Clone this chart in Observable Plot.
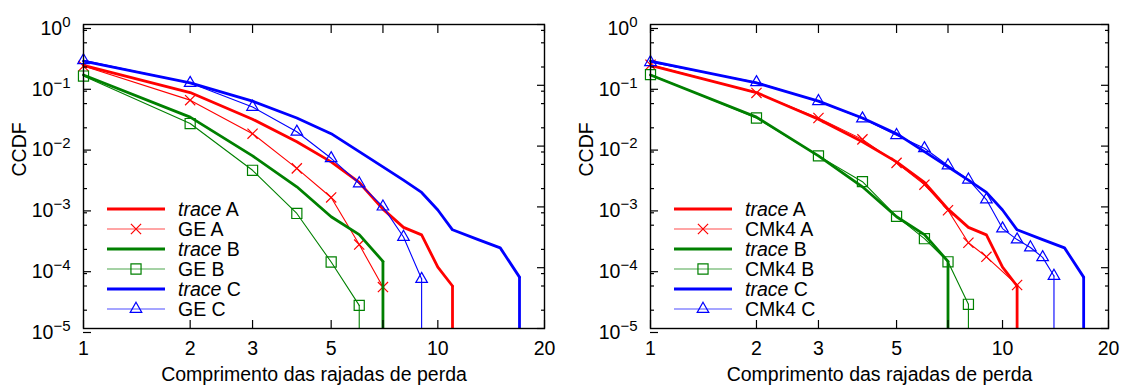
<!DOCTYPE html>
<html>
<head>
<meta charset="utf-8">
<script src="https://cdn.jsdelivr.net/npm/d3@7"></script>
<script src="https://cdn.jsdelivr.net/npm/@observablehq/plot@0.6"></script>
<style>
  html, body { margin: 0; padding: 0; background: #fff; }
  #wrap { display: flex; width: 1127px; height: 390px; }
</style>
</head>
<body>
<div id="wrap"></div>
<script>
// ---- Measured CCDF of loss-burst lengths ----
const traceA_len  = [1, 2, 3, 4, 5, 6, 7, 8, 9, 10, 11];
const traceA_ccdf = [0.213, 0.076, 0.0277, 0.0118, 0.0055, 0.00252, 0.00092, 0.00046, 0.000347, 0.000102, 5.0e-5];
const traceB_len  = [1, 2, 3, 4, 5, 6, 7];
const traceB_ccdf = [0.148, 0.030, 0.0069, 0.00214, 0.00069, 0.00035, 0.000127];
const traceC_len  = [1, 2, 3, 4, 5, 6, 7, 8, 9, 10, 11, 13, 15, 17];
const traceC_ccdf = [0.25, 0.11, 0.055, 0.029, 0.016, 0.0081, 0.00455, 0.00275, 0.00173, 0.00089, 0.00042, 0.00029, 0.000212, 7.0e-5];

// ---- Gilbert-Elliott model ----
const geA_len  = [1, 2, 3, 4, 5, 6, 7];
const geA_ccdf = [0.207, 0.057, 0.016, 0.0043, 0.00143, 0.00024, 4.8e-5];
const geB_len  = [1, 2, 3, 4, 5, 6];
const geB_ccdf = [0.142, 0.0235, 0.0040, 0.00078, 0.000124, 2.4e-5];
const geC_len  = [1, 2, 3, 4, 5, 6, 7, 8, 9];
const geC_ccdf = [0.257, 0.109, 0.044, 0.0172, 0.0063, 0.00243, 0.00101, 0.00032, 6.5e-5];

// ---- 4-state Markov chain model ----
const cmA_len  = [1, 2, 3, 4, 5, 6, 7, 8, 9, 11];
const cmA_ccdf = [0.218, 0.075, 0.029, 0.0129, 0.0053, 0.00232, 0.00088, 0.000257, 0.000151, 5.2e-5];
const cmB_len  = [1, 2, 3, 4, 5, 6, 7, 8];
const cmB_ccdf = [0.15, 0.029, 0.0069, 0.0026, 0.0007, 0.0003, 0.000125, 2.5e-5];
const cmC_len  = [1, 2, 3, 4, 5, 6, 7, 8, 9, 10, 11, 12, 13, 14];
const cmC_ccdf = [0.24, 0.112, 0.0547, 0.0284, 0.0151, 0.0092, 0.0048, 0.0028, 0.00132, 0.00044, 0.00029, 0.000215, 0.000148, 7.3e-5];

// ---- Axes ----
const xTicks = [1, 2, 3, 5, 7, 10, 20];
const yTicks = [1e-5, 1e-4, 1e-3, 1e-2, 1e-1, 1];
const yMinorMult = [2, 5, 8];
const xDomain = [1, 20];
const yDomain = [1e-5, 1];
const xTitle = "Comprimento das rajadas de perda";
const yTitle = "CCDF";

const FONT = '"Liberation Sans", Arial, Helvetica, sans-serif';
const FONT_SIZE = 19.5;
const RED = "#ff0000", GREEN = "#008000", BLUE = "#0000ff";
const THICK = 2.8, THIN = 1.1;

const yMinor = yTicks.slice(0, -1).flatMap(d => yMinorMult.map(m => d * m));

function series(label, italic, len, ccdf, color, symbol) {
  return {label, italic, color, symbol,
          rows: len.map((x, i) => ({x, y: ccdf[i]}))};
}

const leftSeries = [
  series(" A", "trace", traceA_len, traceA_ccdf, RED, null),
  series("GE A", null, geA_len, geA_ccdf, RED, "times"),
  series(" B", "trace", traceB_len, traceB_ccdf, GREEN, null),
  series("GE B", null, geB_len, geB_ccdf, GREEN, "square"),
  series(" C", "trace", traceC_len, traceC_ccdf, BLUE, null),
  series("GE C", null, geC_len, geC_ccdf, BLUE, "triangle")
];
const rightSeries = [
  series(" A", "trace", traceA_len, traceA_ccdf, RED, null),
  series("CMk4 A", null, cmA_len, cmA_ccdf, RED, "times"),
  series(" B", "trace", traceB_len, traceB_ccdf, GREEN, null),
  series("CMk4 B", null, cmB_len, cmB_ccdf, GREEN, "square"),
  series(" C", "trace", traceC_len, traceC_ccdf, BLUE, null),
  series("CMk4 C", null, cmC_len, cmC_ccdf, BLUE, "triangle")
];

// marker radii chosen so the symbols come out about 10px across
const SYMBOL_R = {times: 4.7, square: 5.7, triangle: 4.3};
const D3_SYMBOL = {times: d3.symbolTimes, square: d3.symbolSquare, triangle: d3.symbolTriangle};

function panel(seriesList, width, marginLeft, marginRight) {
  const marks = [];
  for (const s of seriesList) {
    const sw = s.symbol ? THIN : THICK;
    marks.push(Plot.line(s.rows, {x: "x", y: "y", stroke: s.color, strokeWidth: sw}));
    // the curve falls off the bottom of the log axis after its last point
    marks.push(Plot.ruleX(s.rows.slice(-1), {x: "x", y1: "y", y2: () => yDomain[0], stroke: s.color, strokeWidth: sw}));
    if (s.symbol) {
      marks.push(Plot.dot(s.rows, {x: "x", y: "y", symbol: s.symbol, r: SYMBOL_R[s.symbol],
                                   stroke: s.color, strokeWidth: 1.2, fill: "none"}));
    }
  }
  marks.push(
    Plot.frame({stroke: "#000", strokeWidth: 1.4}),
    Plot.axisX(xTicks, {anchor: "bottom", tickSize: -8, tickPadding: 21, tickFormat: d => String(d), label: null, strokeWidth: 1.2}),
    Plot.axisX(xTicks, {anchor: "top", tickSize: -8, tickFormat: () => "", label: null, strokeWidth: 1.2}),
    Plot.axisY(yTicks, {anchor: "left", tickSize: -8, tickPadding: 21, dy: 4,
                        tickFormat: d => `10^${Math.round(Math.log10(d))}`, label: null, strokeWidth: 1.2}),
    Plot.axisY(yTicks, {anchor: "right", tickSize: -8, tickFormat: () => "", label: null, strokeWidth: 1.2}),
    Plot.axisY(yMinor, {anchor: "left", tickSize: -4, tickFormat: () => "", label: null, strokeWidth: 1.2}),
    Plot.axisY(yMinor, {anchor: "right", tickSize: -4, tickFormat: () => "", label: null, strokeWidth: 1.2}),
    Plot.text([xTitle], {text: d => d, frameAnchor: "bottom", dy: 52}),
    Plot.text([yTitle], {text: d => d, frameAnchor: "left", dx: -64, rotate: -90})
  );

  const svg = Plot.plot({
    width, height: 390,
    marginLeft, marginRight, marginTop: 24, marginBottom: 62,
    x: {type: "log", domain: xDomain},
    y: {type: "log", domain: yDomain},
    style: {fontFamily: FONT, fontSize: `${FONT_SIZE}px`, color: "#000", background: "#fff", overflow: "visible"},
    marks
  });

  // powers of ten with a raised exponent
  svg.querySelectorAll('g[aria-label="y-axis tick label"] text').forEach(t => {
    const m = /^10\^(-?\d+)$/.exec(t.textContent);
    if (!m) return;
    t.textContent = "10";
    const sup = document.createElementNS("http://www.w3.org/2000/svg", "tspan");
    sup.setAttribute("dy", "-8");
    sup.setAttribute("font-size", "15px");
    sup.textContent = m[1].replace("-", "\u2212");
    t.appendChild(sup);
  });

  // legend in the lower-left corner of the frame
  const lg = d3.select(svg).append("g")
    .attr("font-family", FONT).attr("font-size", FONT_SIZE).attr("fill", "#000")
    .attr("text-anchor", "start");
  const x0 = marginLeft + 24, x1 = marginLeft + 82, xt = marginLeft + 95;
  seriesList.forEach((s, i) => {
    const cy = 209 + 20 * i;
    const sw = s.symbol ? THIN : THICK;
    lg.append("line").attr("x1", x0).attr("x2", x1).attr("y1", cy).attr("y2", cy)
      .attr("stroke", s.color).attr("stroke-width", sw).attr("stroke-opacity", s.symbol ? 0.7 : 1);
    if (s.symbol) {
      const r = SYMBOL_R[s.symbol];
      lg.append("path")
        .attr("d", d3.symbol(D3_SYMBOL[s.symbol], Math.PI * r * r)())
        .attr("transform", `translate(${(x0 + x1) / 2},${cy})`)
        .attr("fill", "none").attr("stroke", s.color).attr("stroke-width", 1.2);
    }
    const t = lg.append("text").attr("x", xt).attr("y", cy + 7);
    if (s.italic) t.append("tspan").attr("font-style", "italic").text(s.italic);
    t.append("tspan").text(s.label);
  });
  return svg;
}

const wrap = document.getElementById("wrap");
wrap.appendChild(panel(leftSeries, 563, 83, 19));
wrap.appendChild(panel(rightSeries, 564, 87, 19));
</script>
</body>
</html>
